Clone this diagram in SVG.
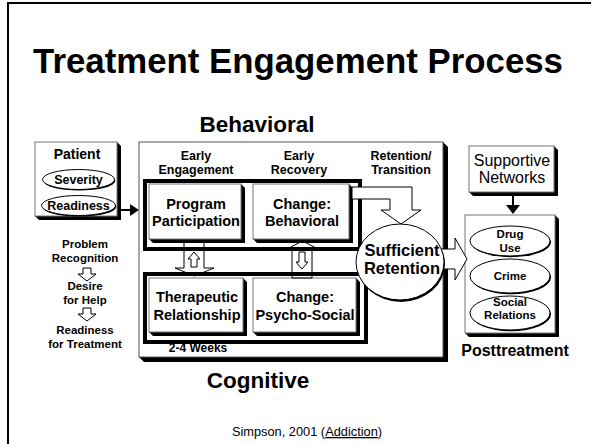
<svg xmlns="http://www.w3.org/2000/svg" width="591" height="444" viewBox="0 0 591 444">
<style>
text{font-family:"Liberation Sans",Arial,Helvetica,sans-serif;fill:#000;text-anchor:middle}
.b{font-weight:bold}
.face{fill:#fff;stroke:#777;stroke-width:1}
.sh{fill:#000}
.frame{fill:none;stroke:#000;stroke-width:4}
.hol{fill:#fff;stroke:#000;stroke-width:1}
.open{fill:none;stroke:#000;stroke-width:1}
.ell{fill:#fff;stroke:#000;stroke-width:1}
.bt{font-weight:bold;font-size:14.5px}
.lab{font-weight:bold;font-size:12.5px}
.sm{font-weight:bold;font-size:12.5px}
.st{font-weight:bold;font-size:11.5px}
.pt{font-weight:bold;font-size:11.5px}
</style>
<rect width="591" height="444" fill="#fff"/>
<path d="M8 444 V3 H591" fill="none" stroke="#000" stroke-width="2"/>
<text x="298" y="73" class="b" font-size="34.8">Treatment Engagement Process</text>

<g id="patient">
<polygon class="sh" points="117,142 121,146 121,220 39,220 35,216"/>
<rect class="face" x="35" y="142" width="82" height="74"/>
<text x="77" y="159" class="b" font-size="14">Patient</text>
<ellipse class="sh" cx="79.3" cy="180.6" rx="36" ry="10"/>
<ellipse class="ell" cx="78.5" cy="179.5" rx="36" ry="10"/>
<text x="78.5" y="184" class="sm">Severity</text>
<ellipse class="sh" cx="79.3" cy="206.6" rx="37" ry="10"/>
<ellipse class="ell" cx="78.5" cy="205.5" rx="37" ry="10"/>
<text x="78.5" y="210" class="sm">Readiness</text>
</g>

<g id="patient-stages">
<text x="85" y="248" class="st">Problem</text>
<text x="85" y="261.5" class="st">Recognition</text>
<path class="hol" d="M83 268 H91 V274 H96 L87 281 L78 274 H83 Z"/>
<text x="85" y="290" class="st">Desire</text>
<text x="85" y="303.5" class="st">for Help</text>
<path class="hol" d="M83 308 H91 V314 H96 L87 321 L78 314 H83 Z"/>
<text x="85" y="334" class="st">Readiness</text>
<text x="85" y="347.5" class="st">for Treatment</text>
</g>

<g id="treatment">
<text x="257" y="132" class="b" font-size="22.5">Behavioral</text>
<polygon class="sh" points="443,142 448,147 448,362 144,362 139,357"/>
<rect x="139" y="142" width="304" height="215" fill="#fff" stroke="#555" stroke-width="1"/>
<text x="196" y="159.5" class="lab">Early</text>
<text x="196" y="174" class="lab">Engagement</text>
<text x="299" y="159.5" class="lab">Early</text>
<text x="299" y="174" class="lab">Recovery</text>
<text x="401" y="159.5" class="lab">Retention/</text>
<text x="401" y="174" class="lab">Transition</text>
<rect class="frame" x="145" y="181" width="215" height="68"/>
<rect class="frame" x="145" y="274" width="221" height="68"/>
<text x="198" y="352" class="b" font-size="12">2-4 Weeks</text>
<text x="258" y="388" class="b" font-size="22.5">Cognitive</text>
</g>

<g id="program-participation">
<polygon class="sh" points="241,184 245,188 245,243 153,243 149,239"/>
<rect class="face" x="149" y="184" width="92" height="55"/>
<text x="196" y="209" class="bt">Program</text>
<text x="196" y="226" class="bt">Participation</text>
</g>

<g id="change-behavioral">
<polygon class="sh" points="349,184 353,188 353,243 257,243 253,239"/>
<rect class="face" x="253" y="184" width="96" height="55"/>
<text x="302" y="209" class="bt">Change:</text>
<text x="302" y="226" class="bt">Behavioral</text>
</g>

<g id="therapeutic-relationship">
<polygon class="sh" points="243,278 247,282 247,336 153,336 149,332"/>
<rect class="face" x="149" y="278" width="94" height="54"/>
<text x="197" y="302" class="bt">Therapeutic</text>
<text x="197" y="320" class="bt">Relationship</text>
</g>

<g id="change-psychosocial">
<polygon class="sh" points="356,278 360,282 360,336 257,336 253,332"/>
<rect class="face" x="253" y="278" width="103" height="54"/>
<text x="305" y="302" class="bt">Change:</text>
<text x="305" y="320" class="bt">Psycho-Social</text>
</g>

<g id="supportive-networks">
<polygon class="sh" points="554,146 558,150 558,196 473,196 469,192"/>
<rect class="face" x="469" y="146" width="85" height="46"/>
<text x="512" y="166" font-size="16">Supportive</text>
<text x="512" y="183" font-size="16">Networks</text>
</g>

<g id="posttreatment">
<polygon class="sh" points="555,215 559,219 559,337 469,337 465,333"/>
<rect class="face" x="465" y="215" width="90" height="118"/>
<ellipse class="sh" cx="511" cy="242.2" rx="40" ry="15"/>
<ellipse class="ell" cx="510" cy="241" rx="40" ry="15"/>
<text x="510" y="238" class="pt">Drug</text>
<text x="510" y="251.5" class="pt">Use</text>
<ellipse class="sh" cx="511" cy="277.2" rx="40" ry="17"/>
<ellipse class="ell" cx="510" cy="276" rx="40" ry="17"/>
<text x="510" y="280" class="pt">Crime</text>
<ellipse class="sh" cx="511" cy="314.2" rx="40" ry="17"/>
<ellipse class="ell" cx="510" cy="313" rx="40" ry="17"/>
<text x="510" y="305.5" class="pt">Social</text>
<text x="510" y="319" class="pt">Relations</text>
<text x="515" y="356" class="b" font-size="16">Posttreatment</text>
</g>

<g id="connectors">
<path d="M121 210 H131" stroke="#000" stroke-width="2" fill="none"/>
<path d="M130 204 L139 210 L130 216 Z" fill="#000"/>
<path class="open" d="M184 243 V268 H175 L194.5 276 L214 268 H204 V243"/>
<path class="hol" d="M191 267 V259 H188 L194 252 L200 259 H197 V267 Z"/>
<path class="open" d="M292 278 V249 H287 L302.5 241 L318 249 H312 V278 Z"/>
<path class="hol" d="M299 252 H305 V262 H308 L302 269 L296 262 H299 Z"/>
<path class="hol" d="M352 187 H412 V210 H421 L401 224 L381 210 H390 V199 H352 Z"/>
<path class="hol" d="M438 249 H455 V238 L467 259 L455 280 V269 H438 Z"/>
<path d="M513 196 V206" stroke="#000" stroke-width="2" fill="none"/>
<path d="M506 205 L520 205 L513 214 Z" fill="#000"/>
</g>

<g id="sufficient-retention">
<ellipse class="sh" cx="401" cy="264" rx="44" ry="38"/>
<ellipse class="ell" cx="400" cy="262" rx="44" ry="38"/>
<text x="402" y="256" class="b" font-size="16.5">Sufficient</text>
<text x="402" y="274" class="b" font-size="16.5">Retention</text>
</g>

<text x="307" y="436" font-size="12.8">Simpson, 2001 (<tspan text-decoration="underline">Addiction</tspan>)</text>
</svg>
